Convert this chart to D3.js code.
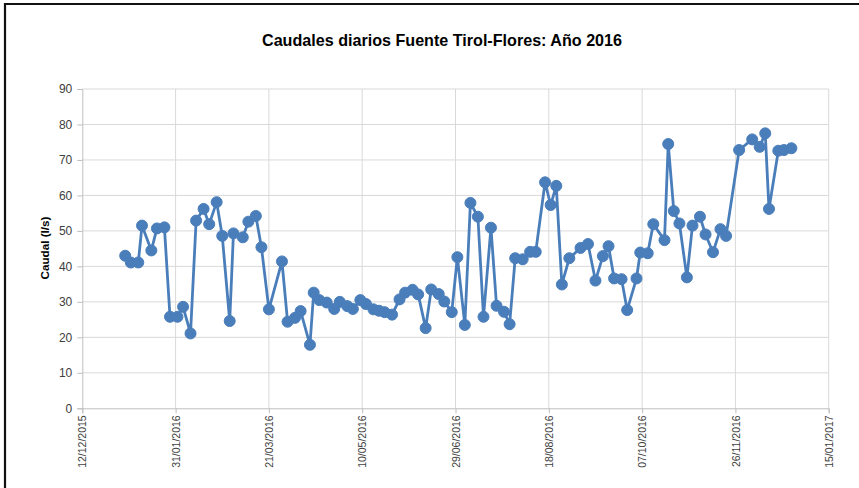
<!DOCTYPE html>
<html>
<head>
<meta charset="utf-8">
<title>Caudales diarios Fuente Tirol-Flores</title>
<script src="https://d3js.org/d3.v7.min.js"></script>
<style>
body { margin: 0; background: #fff; }
svg { display: block; font-family: "Liberation Sans", Arial, sans-serif; }
</style>
</head>
<body>
<div id="chart"></div>
<script>
// Data
var fechas = [
  "2016-01-04","2016-01-07","2016-01-11","2016-01-13","2016-01-18","2016-01-21","2016-01-25","2016-01-28",
  "2016-02-01","2016-02-04","2016-02-08","2016-02-11","2016-02-15","2016-02-18","2016-02-22","2016-02-25","2016-02-29",
  "2016-03-02","2016-03-07","2016-03-10","2016-03-14","2016-03-17","2016-03-21","2016-03-28","2016-03-31",
  "2016-04-04","2016-04-07","2016-04-12","2016-04-14","2016-04-17","2016-04-21","2016-04-25","2016-04-28",
  "2016-05-02","2016-05-05","2016-05-09","2016-05-12","2016-05-16","2016-05-19","2016-05-22","2016-05-26","2016-05-30",
  "2016-06-02","2016-06-06","2016-06-09","2016-06-13","2016-06-16","2016-06-20","2016-06-23","2016-06-27","2016-06-30",
  "2016-07-04","2016-07-07","2016-07-11","2016-07-14","2016-07-18","2016-07-21","2016-07-25","2016-07-28","2016-07-31",
  "2016-08-04","2016-08-08","2016-08-11","2016-08-16","2016-08-19","2016-08-22","2016-08-25","2016-08-29",
  "2016-09-04","2016-09-08","2016-09-12","2016-09-16","2016-09-19","2016-09-22","2016-09-26","2016-09-29",
  "2016-10-04","2016-10-06","2016-10-10","2016-10-13","2016-10-19","2016-10-21","2016-10-24","2016-10-27","2016-10-31",
  "2016-11-03","2016-11-07","2016-11-10","2016-11-14","2016-11-18","2016-11-21","2016-11-28",
  "2016-12-05","2016-12-09","2016-12-12","2016-12-14","2016-12-19","2016-12-22","2016-12-26"
];
var caudales = [
  43.0, 41.1, 41.1, 51.5, 44.5, 50.7, 51.0, 25.8,
  25.8, 28.6, 21.1, 52.9, 56.2, 51.9, 58.1, 48.6, 24.6,
  49.3, 48.2, 52.6, 54.2, 45.4, 27.9, 41.4, 24.4,
  25.5, 27.4, 17.9, 32.6, 30.5, 29.8, 28.0, 30.0,
  28.8, 28.0, 30.5, 29.4, 27.9, 27.5, 27.1, 26.4, 30.7,
  32.6, 33.4, 32.1, 22.6, 33.5, 32.2, 30.1, 27.1, 42.6,
  23.5, 57.9, 54.0, 25.8, 50.9, 28.9, 27.2, 23.7, 42.3,
  42.0, 44.1, 44.1, 63.7, 57.3, 62.7, 34.9, 42.3,
  45.2, 46.3, 36.0, 42.9, 45.7, 36.6, 36.4, 27.7,
  36.6, 43.9, 43.7, 51.9, 47.4, 74.5, 55.6, 52.1, 36.9,
  51.5, 54.0, 49.0, 44.0, 50.5, 48.6, 72.8,
  75.8, 73.7, 77.5, 56.2, 72.6, 72.8, 73.3
];
var ticksX = ["12/12/2015","31/01/2016","21/03/2016","10/05/2016","29/06/2016","18/08/2016","07/10/2016","26/11/2016","15/01/2017"];
var ticksY = [0, 10, 20, 30, 40, 50, 60, 70, 80, 90];

var width = 859, height = 488;
var plotLeft = 82.3, plotRight = 828.7, plotTop = 89, plotBottom = 408.3;

var parseISO = d3.utcParse("%Y-%m-%d");
var parseTick = d3.utcParse("%d/%m/%Y");
var fmtTick = d3.utcFormat("%d/%m/%Y");

var datos = fechas.map(function(f, i) { return { fecha: parseISO(f), valor: caudales[i] }; });
var tickFechas = ticksX.map(parseTick);

var svg = d3.select("#chart").append("svg")
  .attr("width", width)
  .attr("height", height);

// frame (only top/left edges visible in the crop)
svg.append("path")
  .attr("d", "M5,488 V4 H859")
  .attr("fill", "none")
  .attr("stroke", "#111")
  .attr("stroke-width", 2.2);

var x = d3.scaleUtc()
  .domain([tickFechas[0], tickFechas[tickFechas.length - 1]])
  .range([plotLeft, plotRight]);

var y = d3.scaleLinear()
  .domain([0, 90])
  .range([plotBottom, plotTop]);

// gridlines
svg.append("g")
  .selectAll("line")
  .data(ticksY.slice(1))
  .join("line")
  .attr("x1", plotLeft).attr("x2", plotRight)
  .attr("y1", function(d) { return y(d); })
  .attr("y2", function(d) { return y(d); })
  .attr("stroke", "#d9d9d9")
  .attr("stroke-width", 1);

svg.append("g")
  .selectAll("line")
  .data(tickFechas.slice(1))
  .join("line")
  .attr("x1", function(d) { return x(d); })
  .attr("x2", function(d) { return x(d); })
  .attr("y1", plotTop).attr("y2", plotBottom)
  .attr("stroke", "#d9d9d9")
  .attr("stroke-width", 1);

// y axis
var yAxis = svg.append("g")
  .attr("transform", "translate(" + plotLeft + ",0)")
  .call(d3.axisLeft(y).tickValues(ticksY).tickSize(5).tickPadding(5));
yAxis.select(".domain").attr("stroke", "#bfbfbf");
yAxis.selectAll(".tick line").attr("stroke", "#bfbfbf");
yAxis.selectAll(".tick text")
  .attr("fill", "#404040")
  .style("font-family", "'Liberation Sans', Arial, sans-serif")
  .style("font-size", "12px");

// x axis
var xAxis = svg.append("g")
  .attr("transform", "translate(0," + plotBottom + ")")
  .call(d3.axisBottom(x).tickValues(tickFechas).tickFormat(fmtTick).tickSize(5));
xAxis.select(".domain").attr("stroke", "#bfbfbf");
xAxis.selectAll(".tick line").attr("stroke", "#bfbfbf");
xAxis.selectAll(".tick text")
  .attr("fill", "#404040")
  .style("font-family", "'Liberation Sans', Arial, sans-serif")
  .style("font-size", "10.5px")
  .attr("text-anchor", "end")
  .attr("dy", "0.35em")
  .attr("transform", "translate(0,7) rotate(-90)")
  .attr("x", 0)
  .attr("y", 0);

// series
var linea = d3.line()
  .x(function(d) { return x(d.fecha); })
  .y(function(d) { return y(d.valor); });

svg.append("path")
  .datum(datos)
  .attr("d", linea)
  .attr("fill", "none")
  .attr("stroke", "#4a7ebb")
  .attr("stroke-width", 2.8)
  .attr("stroke-linejoin", "round");

svg.append("g")
  .selectAll("circle")
  .data(datos)
  .join("circle")
  .attr("cx", function(d) { return x(d.fecha); })
  .attr("cy", function(d) { return y(d.valor); })
  .attr("r", 5.5)
  .attr("fill", "#4a7ebb")
  .attr("stroke", "#4a7ebb")
  .attr("stroke-width", 1);

// title
svg.append("text")
  .attr("x", 442)
  .attr("y", 46)
  .attr("text-anchor", "middle")
  .attr("textLength", 360)
  .attr("lengthAdjust", "spacingAndGlyphs")
  .style("font-size", "17px")
  .style("font-weight", "bold")
  .attr("fill", "#000")
  .text("Caudales diarios Fuente Tirol-Flores: Año 2016");

// y label
svg.append("text")
  .attr("transform", "translate(49,248) rotate(-90)")
  .attr("text-anchor", "middle")
  .attr("textLength", 63)
  .attr("lengthAdjust", "spacingAndGlyphs")
  .style("font-size", "11px")
  .style("font-weight", "bold")
  .attr("fill", "#000")
  .text("Caudal (l/s)");
</script>
</body>
</html>
